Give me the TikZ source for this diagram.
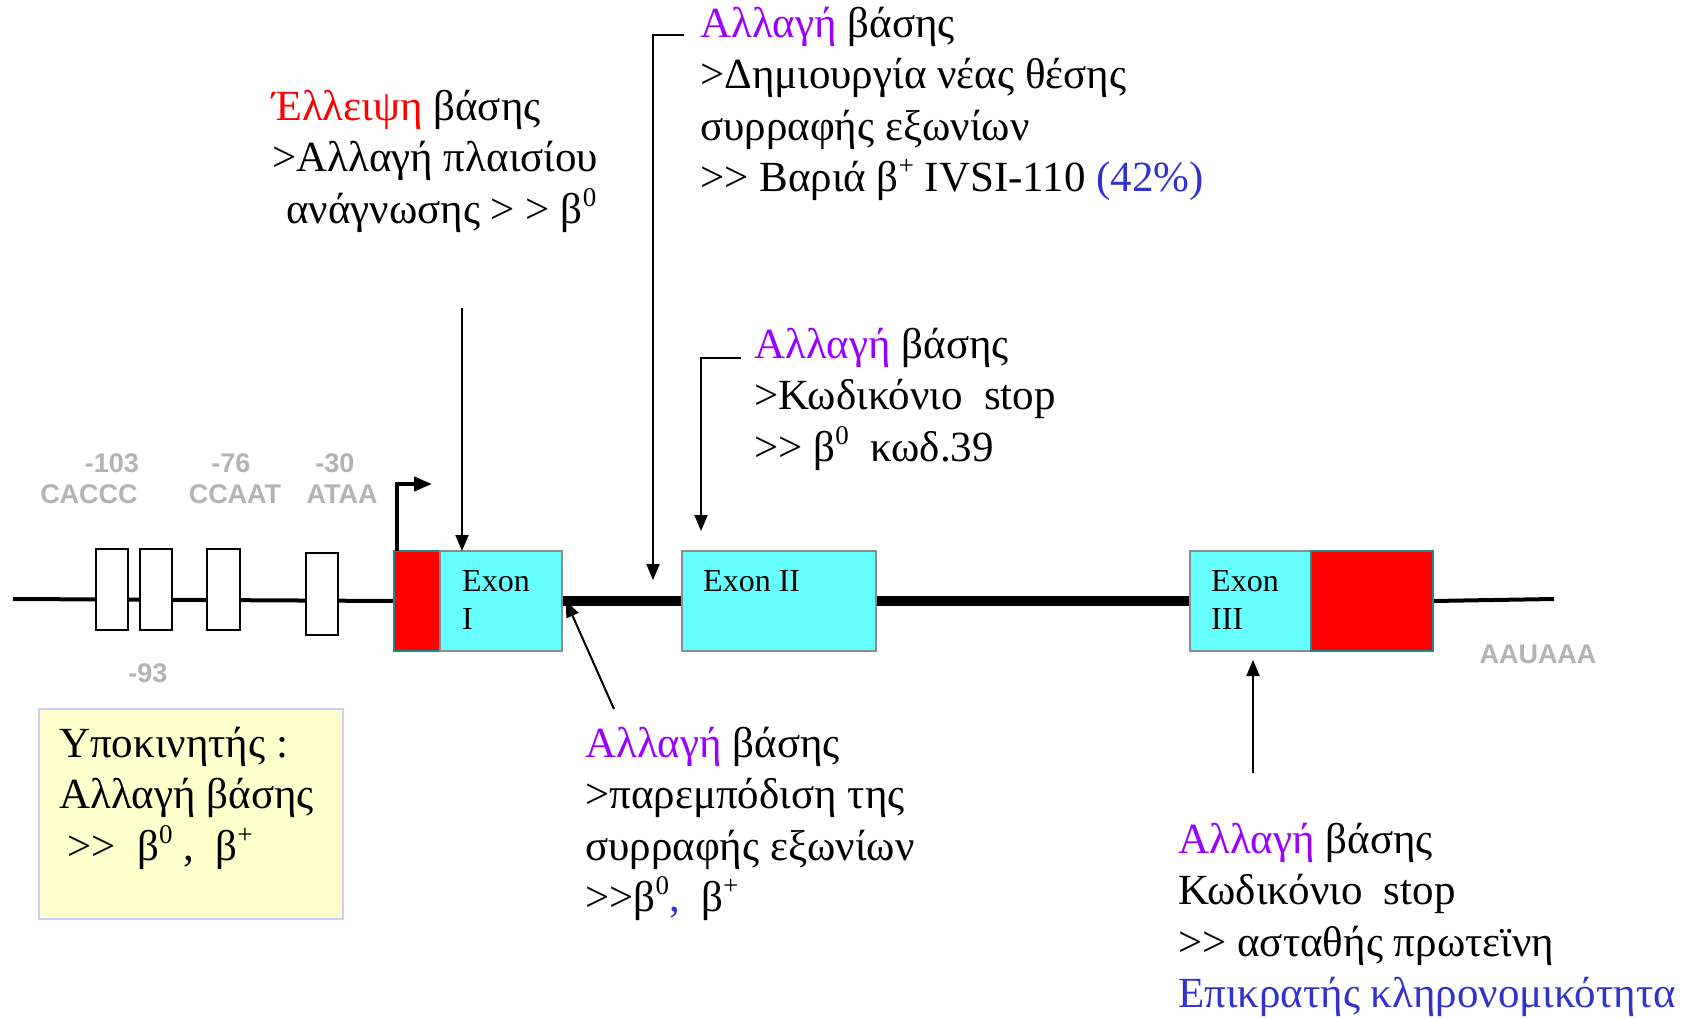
\documentclass[tikz,border=0pt]{standalone}
\usepackage{fontspec}
\setmainfont{Liberation Serif}
\newfontfamily\lsans{Liberation Sans}
\usetikzlibrary{arrows.meta,backgrounds}
\definecolor{purp}{HTML}{9900FF}
\definecolor{blu}{HTML}{3333CC}
\definecolor{cyanx}{HTML}{66FFFF}
\definecolor{redx}{HTML}{FF0000}
\definecolor{tealx}{HTML}{1A8A8A}
\definecolor{grayb}{HTML}{8C8C8C}
\definecolor{ylw}{HTML}{FFFFCC}
\definecolor{lav}{HTML}{CCCCFF}
\definecolor{glab}{HTML}{B3B3B3}
\newcommand{\grgr}{\mbox{>}\mbox{>}}
\newcommand{\supx}[1]{\raisebox{0.4em}{\fontsize{27}{27}\selectfont #1}}
\begin{document}
\begin{tikzpicture}[x=1pt,y=-1pt,
  exonbox/.style={draw=grayb,line width=2pt,fill=cyanx,inner sep=0pt,outer sep=0pt,anchor=north west,minimum height=100pt},
  redbox/.style={draw=tealx,line width=2pt,fill=redx,inner sep=0pt,outer sep=0pt,anchor=north west,minimum height=100pt},
  wbox/.style={draw=black,line width=2.5pt,fill=white,inner sep=0pt,outer sep=0pt,anchor=north west,minimum width=32pt},
  txt/.style={anchor=north west,inner sep=0pt,align=left,font=\fontsize{43}{51.5}\selectfont},
  etxt/.style={anchor=north west,inner sep=0pt,align=left,font=\fontsize{32}{38}\selectfont},
  gl/.style={inner sep=0pt,text=glab,font=\lsans\bfseries\fontsize{27}{27}\selectfont},
  arr/.style={line width=2pt,-{Triangle[length=16pt,width=13pt]}},
  promo/.style={line width=4pt,-{Triangle[length=18pt,width=14pt]}},
  thinl/.style={line width=4pt},
  thickl/.style={line width=10pt}
]
\useasboundingbox (0,0) rectangle (1684,1019);

% exons
\node[redbox,minimum width=46pt] (r1) at (394,551) {};
\node[exonbox,minimum width=122pt] (ex1) at (440,551) {};
\node[exonbox,minimum width=194pt] (ex2) at (682,551) {};
\node[exonbox,minimum width=121pt] (ex3) at (1190,551) {};
\node[redbox,minimum width=122pt] (r3) at (1311,551) {};

% promoter boxes
\node[wbox,minimum height=81pt] (b1) at (96,549) {};
\node[wbox,minimum height=81pt] (b2) at (140,549) {};
\node[wbox,minimum height=81pt,minimum width=33pt] (b3) at (207,549) {};
\node[wbox,minimum height=82pt] (b4) at (306,553) {};

% backbone
\coordinate (gstart) at (13,599);
\coordinate (gend) at (1554,599);
\begin{scope}[on background layer]
\draw[thinl] (gstart) -- (r1.west);
\draw[thickl] (ex1.east) -- (ex2.west);
\draw[thickl] (ex2.east) -- (ex3.west);
\draw[thinl] (r3.east) -- (gend);
\end{scope}

% exon labels
\node[etxt] (e1t) at (462,565) {\strut Exon\\I};
\node[etxt] (e2t) at (703,565) {\strut Exon II};
\node[etxt] (e3t) at (1211,565) {\strut Exon\\III};

% gray labels
\node[gl] (l103) at (112,463) {-103};
\node[gl] (lcaccc) at (89,494) {CACCC};
\node[gl] (l76) at (231,463) {-76};
\node[gl] (lccaat) at (235,494) {CCAAT};
\node[gl] (l30) at (335,463) {-30};
\node[gl] (lataa) at (342,494) {ATAA};
\node[gl] (l93) at (148,673) {-93};
\node[gl] (laau) at (1538,654) {AAUAAA};

% transcription start arrow
\coordinate (tssend) at (432,484);
\draw[promo] ([xshift=3pt]r1.north west) |- (tssend);

% arrow to exon I
\coordinate (a1s) at (462,308);
\draw[arr] (a1s) -- (a1s |- ex1.north);

% bracket 1
\coordinate (k1s) at (684,35);
\coordinate (k1e) at (653,580);
\draw[arr] (k1s) -- (k1e |- k1s) -- (k1e);

% bracket 2
\coordinate (k2s) at (741,358);
\coordinate (k2e) at (701,531);
\draw[arr] (k2s) -- (k2e |- k2s) -- (k2e);

% slanted arrow
\coordinate (s1) at (614,709);
\coordinate (s1e) at (566,601);
\draw[arr] (s1) -- (s1e);

% up arrow
\coordinate (u1) at (1253,773);
\coordinate (u1e) at (1253,660);
\draw[arr] (u1) -- (u1e);

% texts
\node[txt] (t1) at (272,84) {\strut\textcolor{redx}{Έλλειψη} βάσης\\>Αλλαγή πλαισίου\\\hspace{14pt}ανάγνωσης > > β\supx{0}};
\node[txt] (t2) at (700,1) {\strut\textcolor{purp}{Αλλαγή} βάσης\\>Δημιουργία νέας θέσης\\συρραφής εξωνίων\\\grgr{} Βαριά β\supx{+} IVSI-110 \textcolor{blu}{(42\%)}};
\node[txt] (t3) at (754,322) {\strut\textcolor{purp}{Αλλαγή} βάσης\\>Κωδικόνιο\ \ stop\\\grgr{} β\supx{0}\ \ κωδ.39};
\node[txt] (t4) at (585,721) {\strut\textcolor{purp}{Αλλαγή} βάσης\\>παρεμπόδιση της\\συρραφής εξωνίων\\\grgr β\supx{0}\textcolor{blu}{,}\ \ β\supx{+}};
\node[txt] (t5) at (1178,817) {\strut\textcolor{purp}{Αλλαγή} βάσης\\Κωδικόνιο\ \ stop\\\grgr{} ασταθής πρωτεϊνη\\\textcolor{blu}{Επικρατής κληρονομικότητα}};

% promoter box
\node[draw=lav,line width=2pt,fill=ylw,anchor=north west,inner sep=0pt,minimum width=304pt,minimum height=210pt] (yb) at (38,708) {};
\node[txt] (yt) at (59,721) {\strut Υποκινητής :\\Αλλαγή βάσης\\\hspace{8pt}\grgr\ \ β\supx{0} ,\ \ β\supx{+}};
\end{tikzpicture}
\end{document}
